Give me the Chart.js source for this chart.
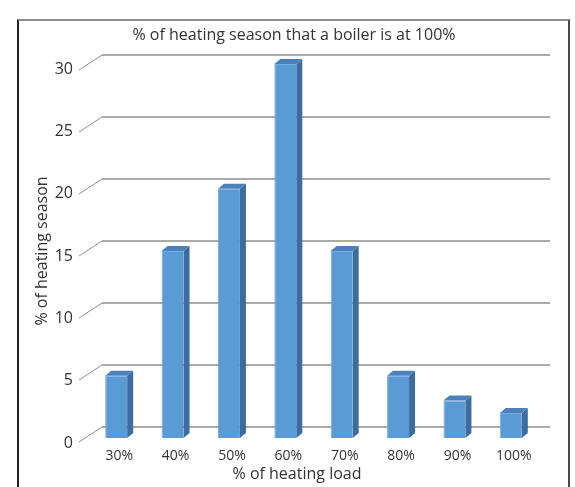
<!DOCTYPE html>
<html>
<head>
<meta charset="utf-8">
<script src="https://cdn.jsdelivr.net/npm/chart.js@4/dist/chart.umd.min.js"></script>
<style>
  html, body { margin: 0; padding: 0; background: #fff; overflow: hidden; }
  #wrap { position: relative; width: 575px; height: 487px; }
  #frame {
    position: absolute; left: 17px; top: 19px; width: 549px; height: 500px;
    border-left: 2px solid #222; border-right: 2px solid #4a4a4a; border-top: 2px solid #8c8c8c;
    pointer-events: none;
  }
  canvas { position: absolute; left: 0; top: 0; }
</style>
</head>
<body>
<div id="wrap">
  <canvas id="c" width="575" height="487"></canvas>
  <div id="frame"></div>
</div>
<script>
// Share of the heating season spent at each boiler load level
const categories = ['30%', '40%', '50%', '60%', '70%', '80%', '90%', '100%'];
const seasonShare = [5, 15, 20, 30, 15, 5, 3, 2];
const yTicks = [0, 5, 10, 15, 20, 25, 30];
const chartTitle = '% of heating season that a boiler is at 100%';
const xTitle = '% of heating load';
const yTitle = '% of heating season';

const FONT = '"Open Sans", Lato, sans-serif';
const TEXT = '#333';
const DEPTH = { dx: 6, dy: -5 };

// Pseudo-3D: back-wall gridlines with floor connectors, bar side/top faces, titles
const box3d = {
  id: 'box3d',
  beforeDatasetsDraw(chart) {
    const { ctx, chartArea: a, scales: { y } } = chart;
    const p0 = y.getPixelForValue(yTicks[0]);
    const pTop = y.getPixelForValue(yTicks[yTicks.length - 1]);
    ctx.save();
    ctx.strokeStyle = '#8e8e8e';
    yTicks.forEach(v => {
      const p = y.getPixelForValue(v);
      const t = (p0 - p) / (p0 - pTop);
      const back = p - 11 + 2 * t;
      const start = p + 4 + 2 * t;
      ctx.lineWidth = 1;
      ctx.beginPath();
      ctx.moveTo(a.left - 9, start);
      ctx.lineTo(a.left + 14, back);
      ctx.stroke();
      ctx.lineWidth = 1.5;
      ctx.beginPath();
      ctx.moveTo(a.left + 14, back);
      ctx.lineTo(a.right + 11, back);
      ctx.stroke();
    });
    ctx.restore();
  },
  afterDatasetsDraw(chart) {
    const { ctx } = chart;
    const { dx, dy } = DEPTH;
    ctx.save();
    chart.getDatasetMeta(0).data.forEach(bar => {
      const { x, y, base, width } = bar.getProps(['x', 'y', 'base', 'width'], true);
      const l = x - width / 2, r = x + width / 2;
      ctx.fillStyle = '#3d6c9e';
      ctx.beginPath();
      ctx.moveTo(r, y); ctx.lineTo(r + dx, y + dy);
      ctx.lineTo(r + dx, base + dy); ctx.lineTo(r, base);
      ctx.closePath(); ctx.fill();
      ctx.fillStyle = '#4b80bb';
      ctx.beginPath();
      ctx.moveTo(l, y); ctx.lineTo(l + dx, y + dy);
      ctx.lineTo(r + dx, y + dy); ctx.lineTo(r, y);
      ctx.closePath(); ctx.fill();
    });
    ctx.restore();
  },
  afterDraw(chart) {
    const { ctx } = chart;
    ctx.save();
    ctx.fillStyle = TEXT;
    ctx.font = '16px ' + FONT;
    ctx.textAlign = 'center';
    ctx.textBaseline = 'middle';
    ctx.fillText(chartTitle, 294, 35);
    ctx.fillText(xTitle, 297, 474);
    ctx.restore();
  }
};

new Chart(document.getElementById('c'), {
  type: 'bar',
  data: {
    labels: categories,
    datasets: [{
      data: seasonShare,
      backgroundColor: '#5b9bd5',
      borderColor: '#74ade0',
      borderWidth: { left: 1, top: 1, right: 0, bottom: 0 },
      borderSkipped: false,
      categoryPercentage: 1,
      barPercentage: 0.39
    }]
  },
  options: {
    responsive: false,
    animation: false,
    devicePixelRatio: 1,
    layout: { padding: { top: 64, right: 36, left: 0, bottom: 0 } },
    plugins: { legend: { display: false }, title: { display: false }, tooltip: { enabled: false } },
    scales: {
      x: {
        grid: { display: false, drawTicks: false },
        border: { display: false },
        ticks: { font: { family: FONT, size: 14 }, color: TEXT, padding: 10, labelOffset: 3 },
        afterFit(scale) { scale.height = 49; }
      },
      y: {
        min: 0, max: 30,
        grid: { display: false, drawTicks: false },
        border: { display: false },
        ticks: { stepSize: 5, font: { family: FONT, size: 16 }, color: TEXT, padding: 15, labelOffset: 5 },
        title: { display: true, text: yTitle, font: { family: FONT, size: 16 }, color: TEXT, padding: { top: 33, bottom: 0 } },
        afterFit(scale) { scale.width = 88; }
      }
    }
  },
  plugins: [box3d]
});
</script>
</body>
</html>
